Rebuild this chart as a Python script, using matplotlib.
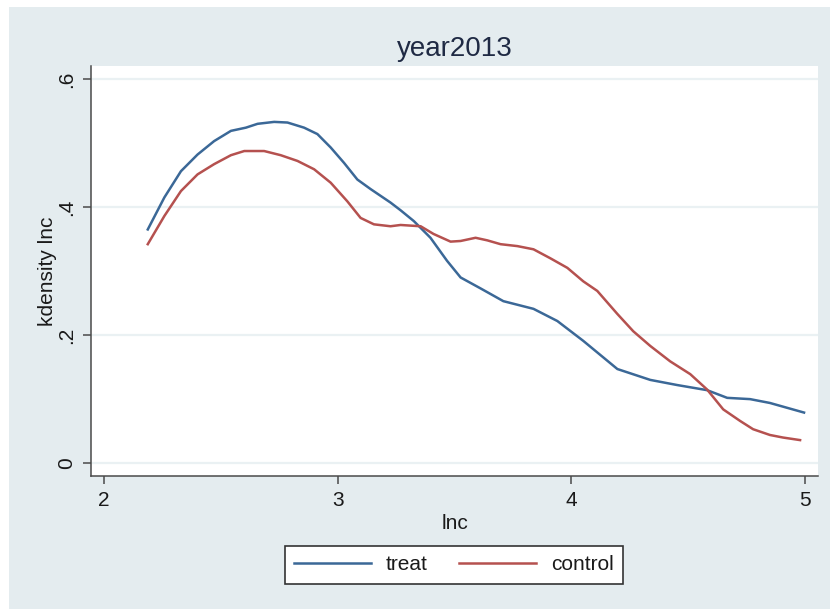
import matplotlib
matplotlib.use("Agg")
import matplotlib.pyplot as plt
from matplotlib.patches import Rectangle

plt.rcParams['font.family'] = ['Liberation Sans', 'DejaVu Sans']

# Kernel density estimates of lnc, 2013
treat_x = [2.187, 2.258, 2.329, 2.400, 2.471, 2.543, 2.607, 2.657, 2.728, 2.785,
           2.856, 2.913, 2.970, 3.027, 3.084, 3.141, 3.226, 3.269, 3.326, 3.397,
           3.468, 3.526, 3.611, 3.709, 3.838, 3.940, 4.051, 4.197, 4.338, 4.453,
           4.581, 4.667, 4.765, 4.850, 4.996]
treat_y = [0.365, 0.415, 0.456, 0.482, 0.503, 0.519, 0.524, 0.530, 0.533, 0.532,
           0.524, 0.514, 0.493, 0.469, 0.443, 0.428, 0.407, 0.395, 0.378, 0.352,
           0.316, 0.290, 0.273, 0.253, 0.241, 0.222, 0.191, 0.147, 0.130, 0.122,
           0.114, 0.102, 0.100, 0.094, 0.079]

control_x = [2.187, 2.258, 2.329, 2.400, 2.471, 2.543, 2.600, 2.685, 2.756, 2.828,
             2.899, 2.970, 3.041, 3.098, 3.155, 3.226, 3.269, 3.355, 3.410, 3.483,
             3.526, 3.590, 3.640, 3.697, 3.769, 3.838, 3.910, 3.983, 4.051, 4.111,
             4.197, 4.265, 4.338, 4.423, 4.509, 4.581, 4.650, 4.722, 4.778, 4.850,
             4.906, 4.979]
control_y = [0.342, 0.386, 0.425, 0.451, 0.467, 0.481, 0.4875, 0.4875, 0.481, 0.472,
             0.459, 0.438, 0.409, 0.383, 0.373, 0.370, 0.372, 0.370, 0.358, 0.346,
             0.347, 0.352, 0.348, 0.342, 0.339, 0.334, 0.320, 0.305, 0.284, 0.269,
             0.233, 0.206, 0.183, 0.159, 0.139, 0.115, 0.084, 0.066, 0.053, 0.044,
             0.040, 0.036]

x_ticks = [2, 3, 4, 5]
y_ticks = [0, 0.2, 0.4, 0.6]
y_tick_labels = ["0", ".2", ".4", ".6"]
series_labels = ["treat", "control"]

BG = "#e4ecef"
BLUE = "#3b6897"
RED = "#b5514f"
AXIS = "#4a4a4a"

fig = plt.figure(figsize=(8.30, 6.09), dpi=100, facecolor="white")
# graph region background, leaving a thin white margin at top and left
fig.patches.append(Rectangle((9 / 830, 0), 1 - 9 / 830, 1 - 7 / 609,
                             transform=fig.transFigure, facecolor=BG,
                             edgecolor="none", zorder=-10))

ax = fig.add_axes([91 / 830, 1 - 475.7 / 609, (818.3 - 91) / 830, (475.7 - 66) / 609])
ax.set_facecolor("white")

ax.plot(treat_x, treat_y, color=BLUE, lw=1.8, solid_joinstyle="round",
        label=series_labels[0])
ax.plot(control_x, control_y, color=RED, lw=1.8, solid_joinstyle="round",
        label=series_labels[1])

ax.set_xlim(1.944, 5.057)
ax.set_ylim(-0.0196, 0.6203)
ax.set_xticks(x_ticks)
ax.set_xticklabels([str(t) for t in x_ticks])
ax.set_yticks(y_ticks)
ax.set_yticklabels(y_tick_labels, rotation=90, va="center")

ax.grid(axis="y", color="#eaf1f3", lw=1.6)
ax.set_axisbelow(True)

for side in ("top", "right"):
    ax.spines[side].set_visible(False)
for side in ("left", "bottom"):
    ax.spines[side].set_color(AXIS)
    ax.spines[side].set_linewidth(1.1)

ax.tick_params(axis="both", direction="out", length=6, width=1.1, color=AXIS,
               labelsize=15, labelcolor="#1a1a1a", pad=5)

ax.set_xlabel("lnc", fontsize=15, color="#1a1a1a", labelpad=3)
ax.set_ylabel("kdensity lnc", fontsize=15, color="#1a1a1a", labelpad=0)
ax.set_title("year2013", fontsize=20, color="#1f2a44", pad=7)

leg = fig.legend(loc="center", bbox_to_anchor=(454 / 830, 1 - 565 / 609),
                 ncol=2, fontsize=15, frameon=True, fancybox=False,
                 framealpha=1.0, handlelength=3.7, handletextpad=0.7,
                 columnspacing=1.5, borderpad=0.45)
leg.get_frame().set_edgecolor("#333333")
leg.get_frame().set_linewidth(1.2)
leg.get_frame().set_facecolor("white")
for t in leg.get_texts():
    t.set_color("#1a1a1a")

fig.savefig("out.png", dpi=100, facecolor=fig.get_facecolor())
